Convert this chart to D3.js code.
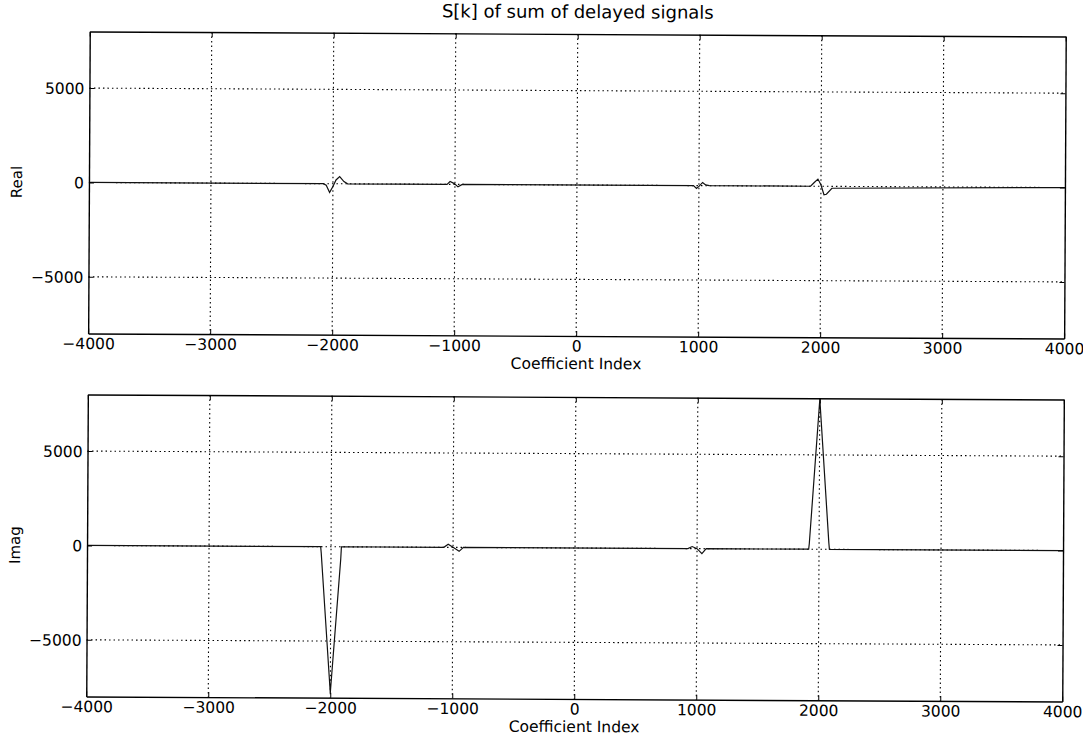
<!DOCTYPE html>
<html>
<head>
<meta charset="utf-8">
<script src="https://cdn.jsdelivr.net/npm/d3@7"></script>
<style>
  html, body { margin: 0; padding: 0; background: #fff; }
  svg { display: block; }
  text { font-family: "DejaVu Sans", sans-serif; fill: #000; }
</style>
</head>
<body>
<script>
// Spectrum S[k] of the summed, delayed signals: real and imaginary parts
const xTicks = [-4000, -3000, -2000, -1000, 0, 1000, 2000, 3000, 4000];
const yTicks = [-5000, 0, 5000];
const xDomain = [-4000, 4000];
const yDomain = [-8000, 8000];

// Real part: coefficient index and value
const realK = [-4000, -2080, -2055, -2027, -2000, -1975, -1945, -1910, -1880,
               -1065, -1040, -1005, -975, -940,
               955, 980, 1000, 1030, 1055, 1085,
               1915, 1945, 1975, 2000, 2025, 2045, 2090, 4000];
const realV = [0, 0, -80, -460, -150, 200, 380, 120, 0,
               0, 150, 40, -130, 0,
               0, -150, -40, 170, 40, 0,
               0, 200, 380, 80, -450, -420, -100, 0];

// Imaginary part: coefficient index and value
const imagK = [-4000, -2085, -2080, -2000, -1920, -1915,
               -1075, -1040, -1000, -950, -915,
               925, 960, 1000, 1040, 1075,
               1915, 1920, 2000, 2080, 2085, 4000];
const imagV = [0, 0, -350, -7750, -650, 0,
               0, 160, 0, -210, 0,
               0, 110, 0, -260, 0,
               0, 300, 7950, 350, 0, 0];

const W = 1083, H = 737;
const left = 88, right = 1064, panelH = 302;
const panels = [
  { top: 34, label: "Real", k: realK, v: realV },
  { top: 397, label: "Imag", k: imagK, v: imagV }
];

const svg = d3.select("body").append("svg")
  .attr("width", W).attr("height", H);

// the whole figure sits at a slight tilt
const fig = svg.append("g")
  .attr("transform", "rotate(0.3, 576, 365)");

const x = d3.scaleLinear().domain(xDomain).range([left, right]);

fig.append("text")
  .attr("x", (left + right) / 2).attr("y", 18)
  .attr("text-anchor", "middle")
  .style("font-size", "18px")
  .text("S[k] of sum of delayed signals");

panels.forEach(p => {
  const bottom = p.top + panelH;
  const y = d3.scaleLinear().domain(yDomain).range([bottom, p.top]);
  const g = fig.append("g");

  // dotted grid
  g.append("g").selectAll("line").data(xTicks.slice(1, -1)).join("line")
    .attr("x1", d => x(d)).attr("x2", d => x(d))
    .attr("y1", p.top).attr("y2", bottom)
    .attr("stroke", "#000").attr("stroke-width", 1.1)
    .attr("stroke-dasharray", "1.5,3");
  g.append("g").selectAll("line").data(yTicks).join("line")
    .attr("x1", left).attr("x2", right)
    .attr("y1", d => y(d)).attr("y2", d => y(d))
    .attr("stroke", "#000").attr("stroke-width", 1.1)
    .attr("stroke-dasharray", "1.5,3");

  // data trace
  const pts = p.k.map((k, i) => [k, p.v[i]]);
  g.append("path")
    .datum(pts)
    .attr("fill", "none")
    .attr("stroke", "#111")
    .attr("stroke-width", 1.2)
    .attr("d", d3.line().x(d => x(d[0])).y(d => y(d[1])));

  // axes with inward ticks
  const fmt = d3.format("d");
  const axB = g.append("g").attr("transform", `translate(0,${bottom})`)
    .call(d3.axisBottom(x).tickValues(xTicks).tickFormat(fmt).tickSizeInner(-5).tickSizeOuter(0).tickPadding(6));
  const axT = g.append("g").attr("transform", `translate(0,${p.top})`)
    .call(d3.axisTop(x).tickValues(xTicks).tickFormat("").tickSizeInner(-5).tickSizeOuter(0));
  const axL = g.append("g").attr("transform", `translate(${left},0)`)
    .call(d3.axisLeft(y).tickValues(yTicks).tickFormat(fmt).tickSizeInner(-5).tickSizeOuter(0).tickPadding(5));
  const axR = g.append("g").attr("transform", `translate(${right},0)`)
    .call(d3.axisRight(y).tickValues(yTicks).tickFormat("").tickSizeInner(-5).tickSizeOuter(0));

  [axB, axT, axL, axR].forEach(a => {
    a.select(".domain").attr("stroke", "#000").attr("stroke-width", 1.4);
    a.selectAll(".tick line").attr("stroke", "#000").attr("stroke-width", 1);
    a.selectAll(".tick text").attr("fill", "#000")
      .style("font-family", "DejaVu Sans, sans-serif").style("font-size", "15.5px");
  });
  axB.selectAll(".tick text").attr("dy", "0.62em");
  axL.selectAll(".tick text").attr("dy", "0.35em");

  g.append("text")
    .attr("x", (left + right) / 2).attr("y", bottom + 33)
    .attr("text-anchor", "middle")
    .style("font-size", "15.5px")
    .text("Coefficient Index");

  g.append("text")
    .attr("transform", `translate(21,${(p.top + bottom) / 2}) rotate(-90)`)
    .attr("text-anchor", "middle")
    .style("font-size", "15px")
    .text(p.label);
});
</script>
</body>
</html>
